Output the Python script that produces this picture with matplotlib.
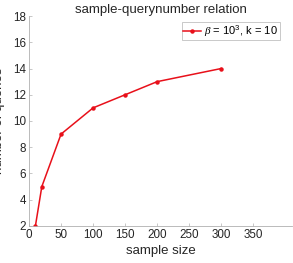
import matplotlib
matplotlib.use("Agg")
import matplotlib.pyplot as plt

# data
sample_size = [10, 20, 50, 100, 150, 200, 300]
num_queries = [2, 5, 9, 11, 12, 13, 14]
xticks = [0, 50, 100, 150, 200, 250, 300, 350]
yticks = [2, 4, 6, 8, 10, 12, 14, 16, 18]

plt.rcParams['font.family'] = ['Liberation Sans', 'DejaVu Sans']
plt.rcParams['mathtext.fontset'] = 'custom'
plt.rcParams['mathtext.it'] = 'Liberation Serif:italic'
plt.rcParams['mathtext.rm'] = 'Liberation Sans'

fig = plt.figure(figsize=(2.93, 2.63), dpi=100)
ax = fig.add_axes([0.099, 0.141, 0.899, 0.798])

ax.plot(sample_size, num_queries, color='#e8101a', lw=1.1, marker='o', ms=2.2,
        label=r'$\beta$ = 10$^3$, k = 10')

ax.set_xlim(0, 411)
ax.set_ylim(2, 18)
ax.set_xticks(xticks)
ax.set_yticks(yticks)

for s in ['top', 'right']:
    ax.spines[s].set_visible(False)
for s in ['left', 'bottom']:
    ax.spines[s].set_color('#b0b0b0')
    ax.spines[s].set_linewidth(0.6)
ax.tick_params(direction='in', length=2.5, width=0.5, color='#b0b0b0',
               labelsize=8.4, labelcolor='#262626', pad=2)

# the y label is clipped at the left edge in the reference too
ax.set_title('sample-querynumber relation', fontsize=9.5, color='#262626', pad=1)
ax.set_xlabel('sample size', fontsize=9.5, color='#262626', labelpad=3)
ax.set_ylabel('number of queries', fontsize=9.5, color='#262626')
ax.yaxis.set_label_coords(-0.091, 0.5)

leg = ax.legend(loc='upper right', bbox_to_anchor=(0.952, 0.972), fontsize=8,
                frameon=True, fancybox=False, handlelength=1.6, handletextpad=0.3,
                borderpad=0.15, borderaxespad=0.0)
leg.get_frame().set_edgecolor('#b0b0b0')
leg.get_frame().set_linewidth(0.6)

fig.savefig('out.png', dpi=100)
